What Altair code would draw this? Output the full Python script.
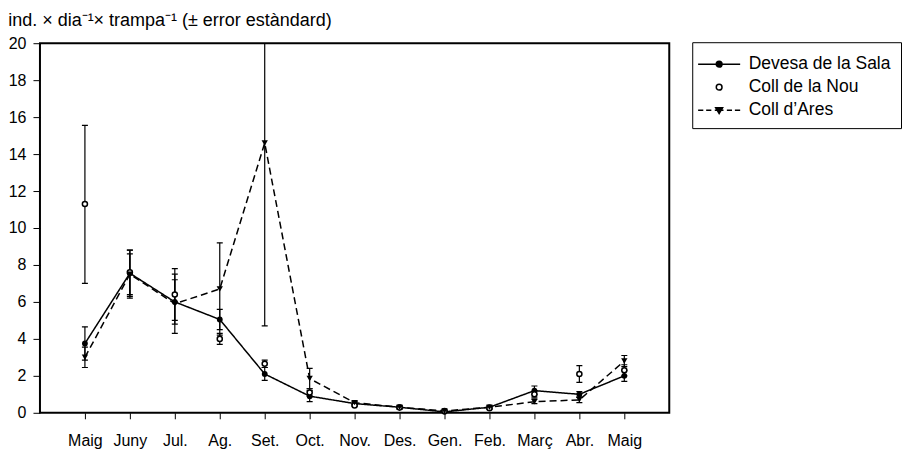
import altair as alt
import pandas as pd

months = ["Maig", "Juny", "Jul.", "Ag.", "Set.", "Oct.", "Nov.", "Des.", "Gen.", "Feb.", "Març", "Abr.", "Maig"]
series_names = ["Devesa de la Sala", "Coll de la Nou", "Coll d’Ares"]

devesa_mean = [3.75, 7.55, 6.0, 5.05, 2.1, 0.9, 0.5, 0.3, 0.05, 0.3, 1.2, 1.0, 2.0]
devesa_lo = [2.85, 6.3, 4.8, 4.5, 1.75, 0.6, 0.4, 0.22, 0.0, 0.22, 1.0, 0.85, 1.7]
devesa_hi = [4.65, 8.8, 7.2, 5.6, 2.45, 1.2, 0.6, 0.38, 0.1, 0.38, 1.45, 1.15, 2.3]

nou_mean = [11.3, 7.6, 6.4, 4.0, 2.65, 1.1, 0.4, 0.28, 0.1, 0.25, 1.0, 2.1, 2.3]
nou_lo = [7.0, 6.4, 5.0, 3.7, 2.45, 0.9, 0.35, 0.2, 0.05, 0.2, 0.85, 1.65, 2.0]
nou_hi = [15.55, 8.8, 7.8, 4.3, 2.85, 1.3, 0.45, 0.36, 0.15, 0.3, 1.15, 2.55, 2.6]

ares_mean = [3.0, 7.5, 5.9, 6.7, 14.6, 1.85, 0.55, 0.3, 0.1, 0.3, 0.6, 0.7, 2.8]
ares_lo = [2.45, 6.2, 4.3, 4.2, 4.7, 1.3, 0.45, 0.22, 0.05, 0.22, 0.5, 0.55, 2.5]
ares_hi = [3.55, 8.6, 7.5, 9.2, 24.5, 2.4, 0.65, 0.38, 0.15, 0.38, 0.75, 0.85, 3.1]

title_text = "ind. × dia⁻¹× trampa⁻¹  (± error estàndard)"

rows = []
for name, m, lo, hi in [
    (series_names[0], devesa_mean, devesa_lo, devesa_hi),
    (series_names[1], nou_mean, nou_lo, nou_hi),
    (series_names[2], ares_mean, ares_lo, ares_hi),
]:
    for i in range(len(months)):
        rows.append({"idx": i, "month": months[i], "series": name,
                     "mean": m[i], "lo": lo[i], "hi": hi[i]})
df = pd.DataFrame(rows)

label_expr = "[" + ",".join("'" + m + "'" for m in months) + "][datum.value]"

FONT = "Liberation Sans"

xenc = alt.X("idx:Q",
             scale=alt.Scale(domain=[-1, 13], nice=False, zero=False),
             axis=alt.Axis(values=list(range(len(months))), labelExpr=label_expr,
                           title=None, grid=False, domain=False, tickSize=6,
                           labelPadding=14, labelFontSize=16, labelFont=FONT,
                           labelColor="black", tickColor="black", labelFlush=False))
yaxis = alt.Axis(values=list(range(0, 21, 2)), title=None, grid=False, domain=False,
                 tickSize=7, labelPadding=7, labelFontSize=16, labelFont=FONT,
                 labelColor="black", tickColor="black", format="d")
yscale = alt.Scale(domain=[0, 20], nice=False, zero=True)

base = alt.Chart(df)

rules = base.mark_rule(color="black", strokeWidth=1.2, clip=True).encode(
    x=xenc, y=alt.Y("lo:Q", scale=yscale, axis=yaxis), y2="hi:Q", detail="series:N")

caps = base.transform_fold(["lo", "hi"], as_=["end", "val"]).mark_tick(
    orient="horizontal", size=6, thickness=1.2, color="black", clip=True, opacity=1
).encode(x=xenc, y=alt.Y("val:Q", scale=yscale, axis=yaxis), detail="series:N")

lines = base.transform_filter("datum.series != 'Coll de la Nou'").mark_line(
    color="black", strokeWidth=1.5
).encode(
    x=xenc, y=alt.Y("mean:Q", scale=yscale, axis=yaxis),
    strokeDash=alt.StrokeDash("series:N",
                              scale=alt.Scale(domain=[series_names[0], series_names[2]],
                                              range=[[1, 0], [7, 4]]),
                              legend=None),
)

pt_dev = base.transform_filter("datum.series == 'Devesa de la Sala'").mark_point(
    shape="circle", filled=True, size=34, color="black", opacity=1
).encode(x=xenc, y=alt.Y("mean:Q", scale=yscale, axis=yaxis))

pt_nou = base.transform_filter("datum.series == 'Coll de la Nou'").mark_point(
    shape="circle", filled=False, fill="white", stroke="black", strokeWidth=1.5,
    size=26, opacity=1, fillOpacity=1
).encode(x=xenc, y=alt.Y("mean:Q", scale=yscale, axis=yaxis))

pt_ares = base.transform_filter("datum.series != 'Devesa de la Sala' && datum.series != 'Coll de la Nou'").mark_point(
    shape="triangle-down", filled=True, size=40, color="black", opacity=1
).encode(x=xenc, y=alt.Y("mean:Q", scale=yscale, axis=yaxis))

legend_paths = [
    "M-1.4,0H2.26M0.18,0A0.25,0.25 0 1,1 0.68,0A0.25,0.25 0 1,1 0.18,0Z",
    "M0.18,0A0.25,0.25 0 1,1 0.68,0A0.25,0.25 0 1,1 0.18,0Z",
    "M-1.4,0H-0.95M-0.7,0H-0.25M0.05,0H0.81M1.1,0H1.55M1.8,0H2.26M0.13,-0.2L0.73,-0.2L0.43,0.3Z",
]
legend_fills = ["black", "white", "black"]
legend_strokes = ["black", "black", "black"]

leg_params = dict(orient="none", legendX=653, legendY=-1, title=None, padding=9.5,
                  strokeColor="black", fillColor="white", labelFontSize=17.5,
                  labelFont=FONT, labelColor="black", symbolSize=529,
                  symbolStrokeWidth=1.5, symbolStrokeColor="black",
                  rowPadding=2, labelOffset=22)

legend_layer = base.transform_filter("false").mark_point(
    filled=False, strokeWidth=1.5, size=529, opacity=1
).encode(
    x=xenc, y=alt.Y("mean:Q", scale=yscale, axis=yaxis),
    shape=alt.Shape("series:N", scale=alt.Scale(domain=series_names, range=legend_paths),
                    legend=alt.Legend(**leg_params), sort=None),
    fill=alt.Fill("series:N", scale=alt.Scale(domain=series_names, range=legend_fills),
                  legend=alt.Legend(**leg_params), sort=None),
    stroke=alt.Stroke("series:N", scale=alt.Scale(domain=series_names, range=legend_strokes),
                      legend=alt.Legend(**leg_params), sort=None),
)

chart = alt.layer(rules, caps, lines, pt_dev, pt_nou, pt_ares, legend_layer).properties(
    width=630, height=370,
    title=alt.TitleParams(title_text, anchor="start", frame="bounds", fontSize=18,
                          font=FONT, fontWeight="normal", color="black", offset=5),
    padding={"left": 0, "top": 4, "right": 0, "bottom": 0},
).configure_view(stroke="black", strokeWidth=2)

chart.save("out.html", embed_options={"renderer": "svg", "actions": False})
